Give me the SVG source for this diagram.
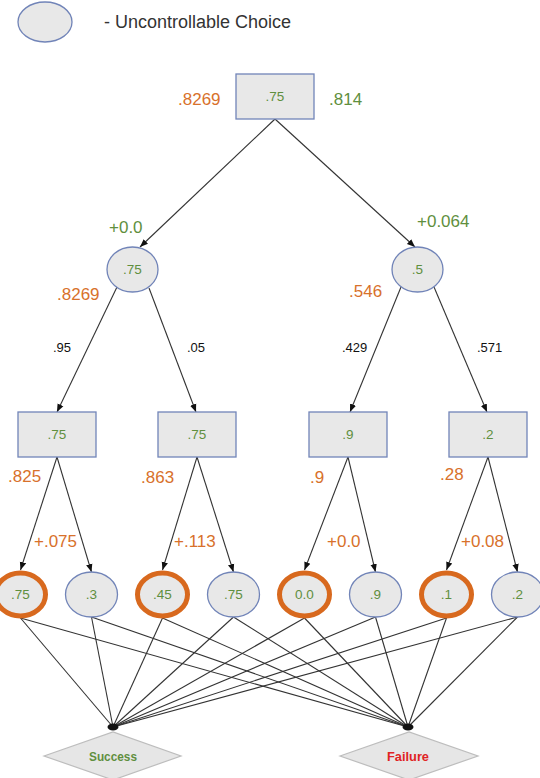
<svg xmlns="http://www.w3.org/2000/svg" width="540" height="778" viewBox="0 0 540 778">
<defs>
<marker id="arr" markerUnits="userSpaceOnUse" markerWidth="8" markerHeight="8" viewBox="0 0 8 8" refX="8" refY="4" orient="auto">
<path d="M0,0.8 L8,4 L0,7.2 Z" fill="#111"/>
</marker>
<style>
.n{fill:#e8e8e8;stroke:#7184b8;stroke-width:1.3}
.o{fill:#e8e8e8;stroke:#d8691e;stroke-width:5}
.d{fill:#e6e6e6;stroke:#bdbdbd;stroke-width:1.2}
.e{stroke:#333;stroke-width:1.1;fill:none}
.a{marker-end:url(#arr)}
text{font-family:"Liberation Sans",Arial,sans-serif}
.v{fill:#5f8f3e;font-size:13.5px;text-anchor:middle}
.or{fill:#d8712b;font-size:17px}
.gr{fill:#5f8f3e;font-size:17px}
.p{fill:#111;font-size:13px}
</style>
</defs>
<rect width="540" height="778" fill="#fff"/>
<g id="legend">
<ellipse class="n" cx="45" cy="22" rx="27" ry="20"/>
<text x="104" y="28" font-size="18" fill="#333">- Uncontrollable Choice</text>
</g>
<g id="connectors">
<line class="e a" x1="275" y1="119" x2="140" y2="247"/>
<line class="e a" x1="275" y1="119" x2="415" y2="247"/>
<line class="e a" x1="117" y1="287" x2="57" y2="412"/>
<line class="e a" x1="149" y1="288" x2="196" y2="412"/>
<line class="e a" x1="401" y1="287" x2="350" y2="412"/>
<line class="e a" x1="434" y1="287" x2="487" y2="412"/>
<line class="e a" x1="57" y1="457" x2="20.5" y2="570"/>
<line class="e a" x1="57" y1="457" x2="91.5" y2="572"/>
<line class="e a" x1="197" y1="457" x2="162.5" y2="570"/>
<line class="e a" x1="197" y1="457" x2="233.5" y2="572"/>
<line class="e a" x1="348" y1="457" x2="304.5" y2="570"/>
<line class="e a" x1="348" y1="457" x2="375.5" y2="572"/>
<line class="e a" x1="488" y1="457" x2="446.5" y2="570"/>
<line class="e a" x1="488" y1="457" x2="517.5" y2="572"/>
<g class="e">
<line x1="20.5" y1="618" x2="113" y2="727"/>
<line x1="91.5" y1="617" x2="113" y2="727"/>
<line x1="162.5" y1="618" x2="113" y2="727"/>
<line x1="233.5" y1="617" x2="113" y2="727"/>
<line x1="304.5" y1="618" x2="113" y2="727"/>
<line x1="375.5" y1="617" x2="113" y2="727"/>
<line x1="446.5" y1="618" x2="113" y2="727"/>
<line x1="517.5" y1="617" x2="113" y2="727"/>
<line x1="20.5" y1="618" x2="408" y2="727"/>
<line x1="91.5" y1="617" x2="408" y2="727"/>
<line x1="162.5" y1="618" x2="408" y2="727"/>
<line x1="233.5" y1="617" x2="408" y2="727"/>
<line x1="304.5" y1="618" x2="408" y2="727"/>
<line x1="375.5" y1="617" x2="408" y2="727"/>
<line x1="446.5" y1="618" x2="408" y2="727"/>
<line x1="517.5" y1="617" x2="408" y2="727"/>
</g>
<ellipse cx="113" cy="727" rx="5.5" ry="3.5" fill="#111"/>
<ellipse cx="408" cy="727" rx="5.5" ry="3.5" fill="#111"/>
</g>
<g id="root">
<rect class="n" x="236" y="74" width="78" height="45"/>
<text class="v" x="275" y="101">.75</text>
<text class="or" x="178" y="105">.8269</text>
<text class="gr" x="329" y="105">.814</text>
</g>
<g id="c1">
<ellipse class="n" cx="132.5" cy="269.5" rx="25.5" ry="22.5"/>
<text class="v" x="132.5" y="274">.75</text>
<text class="gr" x="109" y="233">+0.0</text>
<text class="or" x="57" y="300">.8269</text>
</g>
<g id="c2">
<ellipse class="n" cx="417.5" cy="269.5" rx="25.5" ry="22.5"/>
<text class="v" x="417.5" y="274">.5</text>
<text class="gr" x="417" y="227">+0.064</text>
<text class="or" x="349" y="297">.546</text>
</g>
<g id="edgelabels">
<text class="p" x="53" y="352">.95</text>
<text class="p" x="187" y="352">.05</text>
<text class="p" x="342" y="352">.429</text>
<text class="p" x="477" y="352">.571</text>
</g>
<g id="r1">
<rect class="n" x="18" y="412" width="78" height="45"/>
<text class="v" x="57" y="439">.75</text>
<text class="or" x="8" y="482">.825</text>
<text class="or" x="34" y="547">+.075</text>
</g>
<g id="r2">
<rect class="n" x="158" y="412" width="78" height="45"/>
<text class="v" x="197" y="439">.75</text>
<text class="or" x="141" y="483">.863</text>
<text class="or" x="174" y="547">+.113</text>
</g>
<g id="r3">
<rect class="n" x="309" y="412" width="78" height="45"/>
<text class="v" x="348" y="439">.9</text>
<text class="or" x="310" y="483">.9</text>
<text class="or" x="327" y="547">+0.0</text>
</g>
<g id="r4">
<rect class="n" x="449" y="412" width="78" height="45"/>
<text class="v" x="488" y="439">.2</text>
<text class="or" x="440" y="480">.28</text>
<text class="or" x="461" y="547">+0.08</text>
</g>
<g id="l1"><ellipse class="o" cx="20.5" cy="594.5" rx="25" ry="21.5"/><text class="v" x="20.5" y="599">.75</text></g>
<g id="l2"><ellipse class="n" cx="91.5" cy="594.5" rx="26" ry="22.5"/><text class="v" x="91.5" y="599">.3</text></g>
<g id="l3"><ellipse class="o" cx="162.5" cy="594.5" rx="25" ry="21.5"/><text class="v" x="162.5" y="599">.45</text></g>
<g id="l4"><ellipse class="n" cx="233.5" cy="594.5" rx="26" ry="22.5"/><text class="v" x="233.5" y="599">.75</text></g>
<g id="l5"><ellipse class="o" cx="304.5" cy="594.5" rx="25" ry="21.5"/><text class="v" x="304.5" y="599">0.0</text></g>
<g id="l6"><ellipse class="n" cx="375.5" cy="594.5" rx="26" ry="22.5"/><text class="v" x="375.5" y="599">.9</text></g>
<g id="l7"><ellipse class="o" cx="446.5" cy="594.5" rx="25" ry="21.5"/><text class="v" x="446.5" y="599">.1</text></g>
<g id="l8"><ellipse class="n" cx="517.5" cy="594.5" rx="26" ry="22.5"/><text class="v" x="517.5" y="599">.2</text></g>
<g id="success">
<polygon class="d" points="44,756 113,732 181,756 113,780"/>
<text x="113" y="761" text-anchor="middle" font-size="13.5" font-weight="bold" fill="#5f8f3e" textLength="48" lengthAdjust="spacingAndGlyphs">Success</text>
</g>
<g id="failure">
<polygon class="d" points="340,756 409,732 478,756 409,780"/>
<text x="408" y="761" text-anchor="middle" font-size="13.5" font-weight="bold" fill="#e02424" textLength="42" lengthAdjust="spacingAndGlyphs">Failure</text>
</g>
</svg>
